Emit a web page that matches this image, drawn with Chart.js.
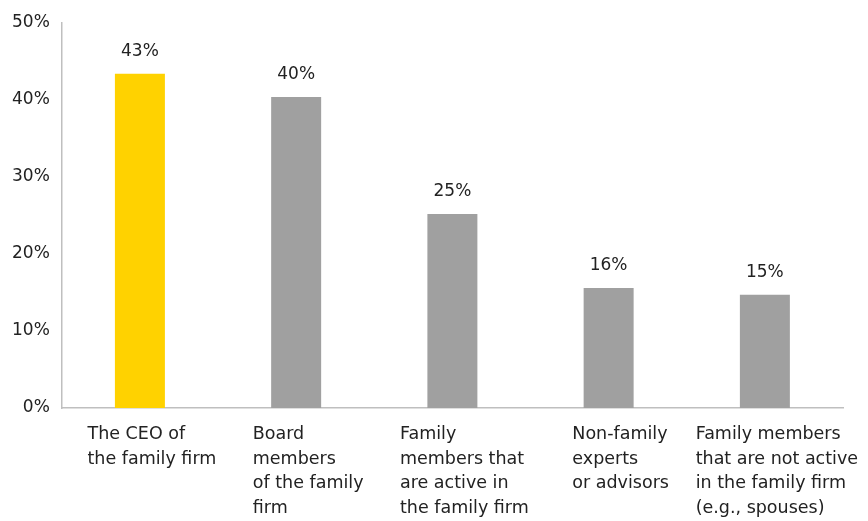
<!DOCTYPE html>
<html>
<head>
<meta charset="utf-8">
<script src="https://cdn.jsdelivr.net/npm/chart.js@4/dist/chart.umd.min.js"></script>
<style>
  html, body { margin: 0; padding: 0; background: #fff; }
  #wrap { width: 868px; height: 521px; }
</style>
</head>
<body>
<div id="wrap"><canvas id="chart" width="868" height="521"></canvas></div>
<script>
const categories = [
  ['The CEO of', 'the family firm'],
  ['Board', 'members', 'of the family', 'firm'],
  ['Family', 'members that', 'are active in', 'the family firm'],
  ['Non-family', 'experts', 'or advisors'],
  ['Family members', 'that are not active', 'in the family firm', '(e.g., spouses)']
];
const shares = [43.4, 40.4, 25.2, 15.6, 14.7];
const barColors = ['#FFD200', '#A0A0A0', '#A0A0A0', '#A0A0A0', '#A0A0A0'];
const yTicks = [0, 10, 20, 30, 40, 50];

const FONT = '"DejaVu Sans", "Open Sans", sans-serif';
const TEXT = '#222222';

// value labels above each bar
const valueLabels = {
  id: 'valueLabels',
  afterDatasetsDraw(chart) {
    const ctx = chart.ctx;
    const meta = chart.getDatasetMeta(0);
    ctx.save();
    ctx.font = '17px ' + FONT;
    ctx.fillStyle = TEXT;
    ctx.textAlign = 'center';
    ctx.textBaseline = 'bottom';
    meta.data.forEach((bar, i) => {
      ctx.fillText(Math.round(shares[i]) + '%', bar.x, bar.y - 14);
    });
    ctx.restore();
  }
};

// category labels: left-aligned lines, block roughly centred under the tick
const categoryLabels = {
  id: 'categoryLabels',
  afterDraw(chart) {
    const ctx = chart.ctx;
    const xs = chart.scales.x;
    ctx.save();
    ctx.font = '17.5px ' + FONT;
    ctx.fillStyle = TEXT;
    ctx.textAlign = 'left';
    ctx.textBaseline = 'top';
    categories.forEach((lines, i) => {
      const cx = xs.getPixelForTick(i);
      const w = Math.max(...lines.map(l => ctx.measureText(l).width));
      const left = cx - w / 2 + 12;
      lines.forEach((l, j) => {
        ctx.fillText(l, left, xs.bottom + 18 + j * 24.5);
      });
    });
    ctx.restore();
  }
};

new Chart(document.getElementById('chart'), {
  type: 'bar',
  data: {
    labels: categories.map(c => c.join(' ')),
    datasets: [{
      data: shares,
      backgroundColor: barColors,
      borderWidth: 0,
      categoryPercentage: 1,
      barPercentage: 0.32
    }]
  },
  options: {
    responsive: false,
    animation: false,
    layout: { padding: { left: 0, right: 25, top: 23, bottom: 113 } },
    plugins: { legend: { display: false }, tooltip: { enabled: false } },
    scales: {
      x: {
        grid: { display: false, drawTicks: false },
        border: { display: true, color: '#BFBFBF', width: 1.5 },
        ticks: { display: false }
      },
      y: {
        min: 0,
        max: 50,
        afterBuildTicks(axis) { axis.ticks = yTicks.map(v => ({ value: v })); },
        grid: { display: false, drawTicks: false },
        border: { display: true, color: '#BFBFBF', width: 1.5 },
        ticks: {
          padding: 12,
          color: TEXT,
          font: { family: FONT, size: 17 },
          callback: v => v + '%'
        }
      }
    }
  },
  plugins: [valueLabels, categoryLabels]
});
</script>
</body>
</html>
